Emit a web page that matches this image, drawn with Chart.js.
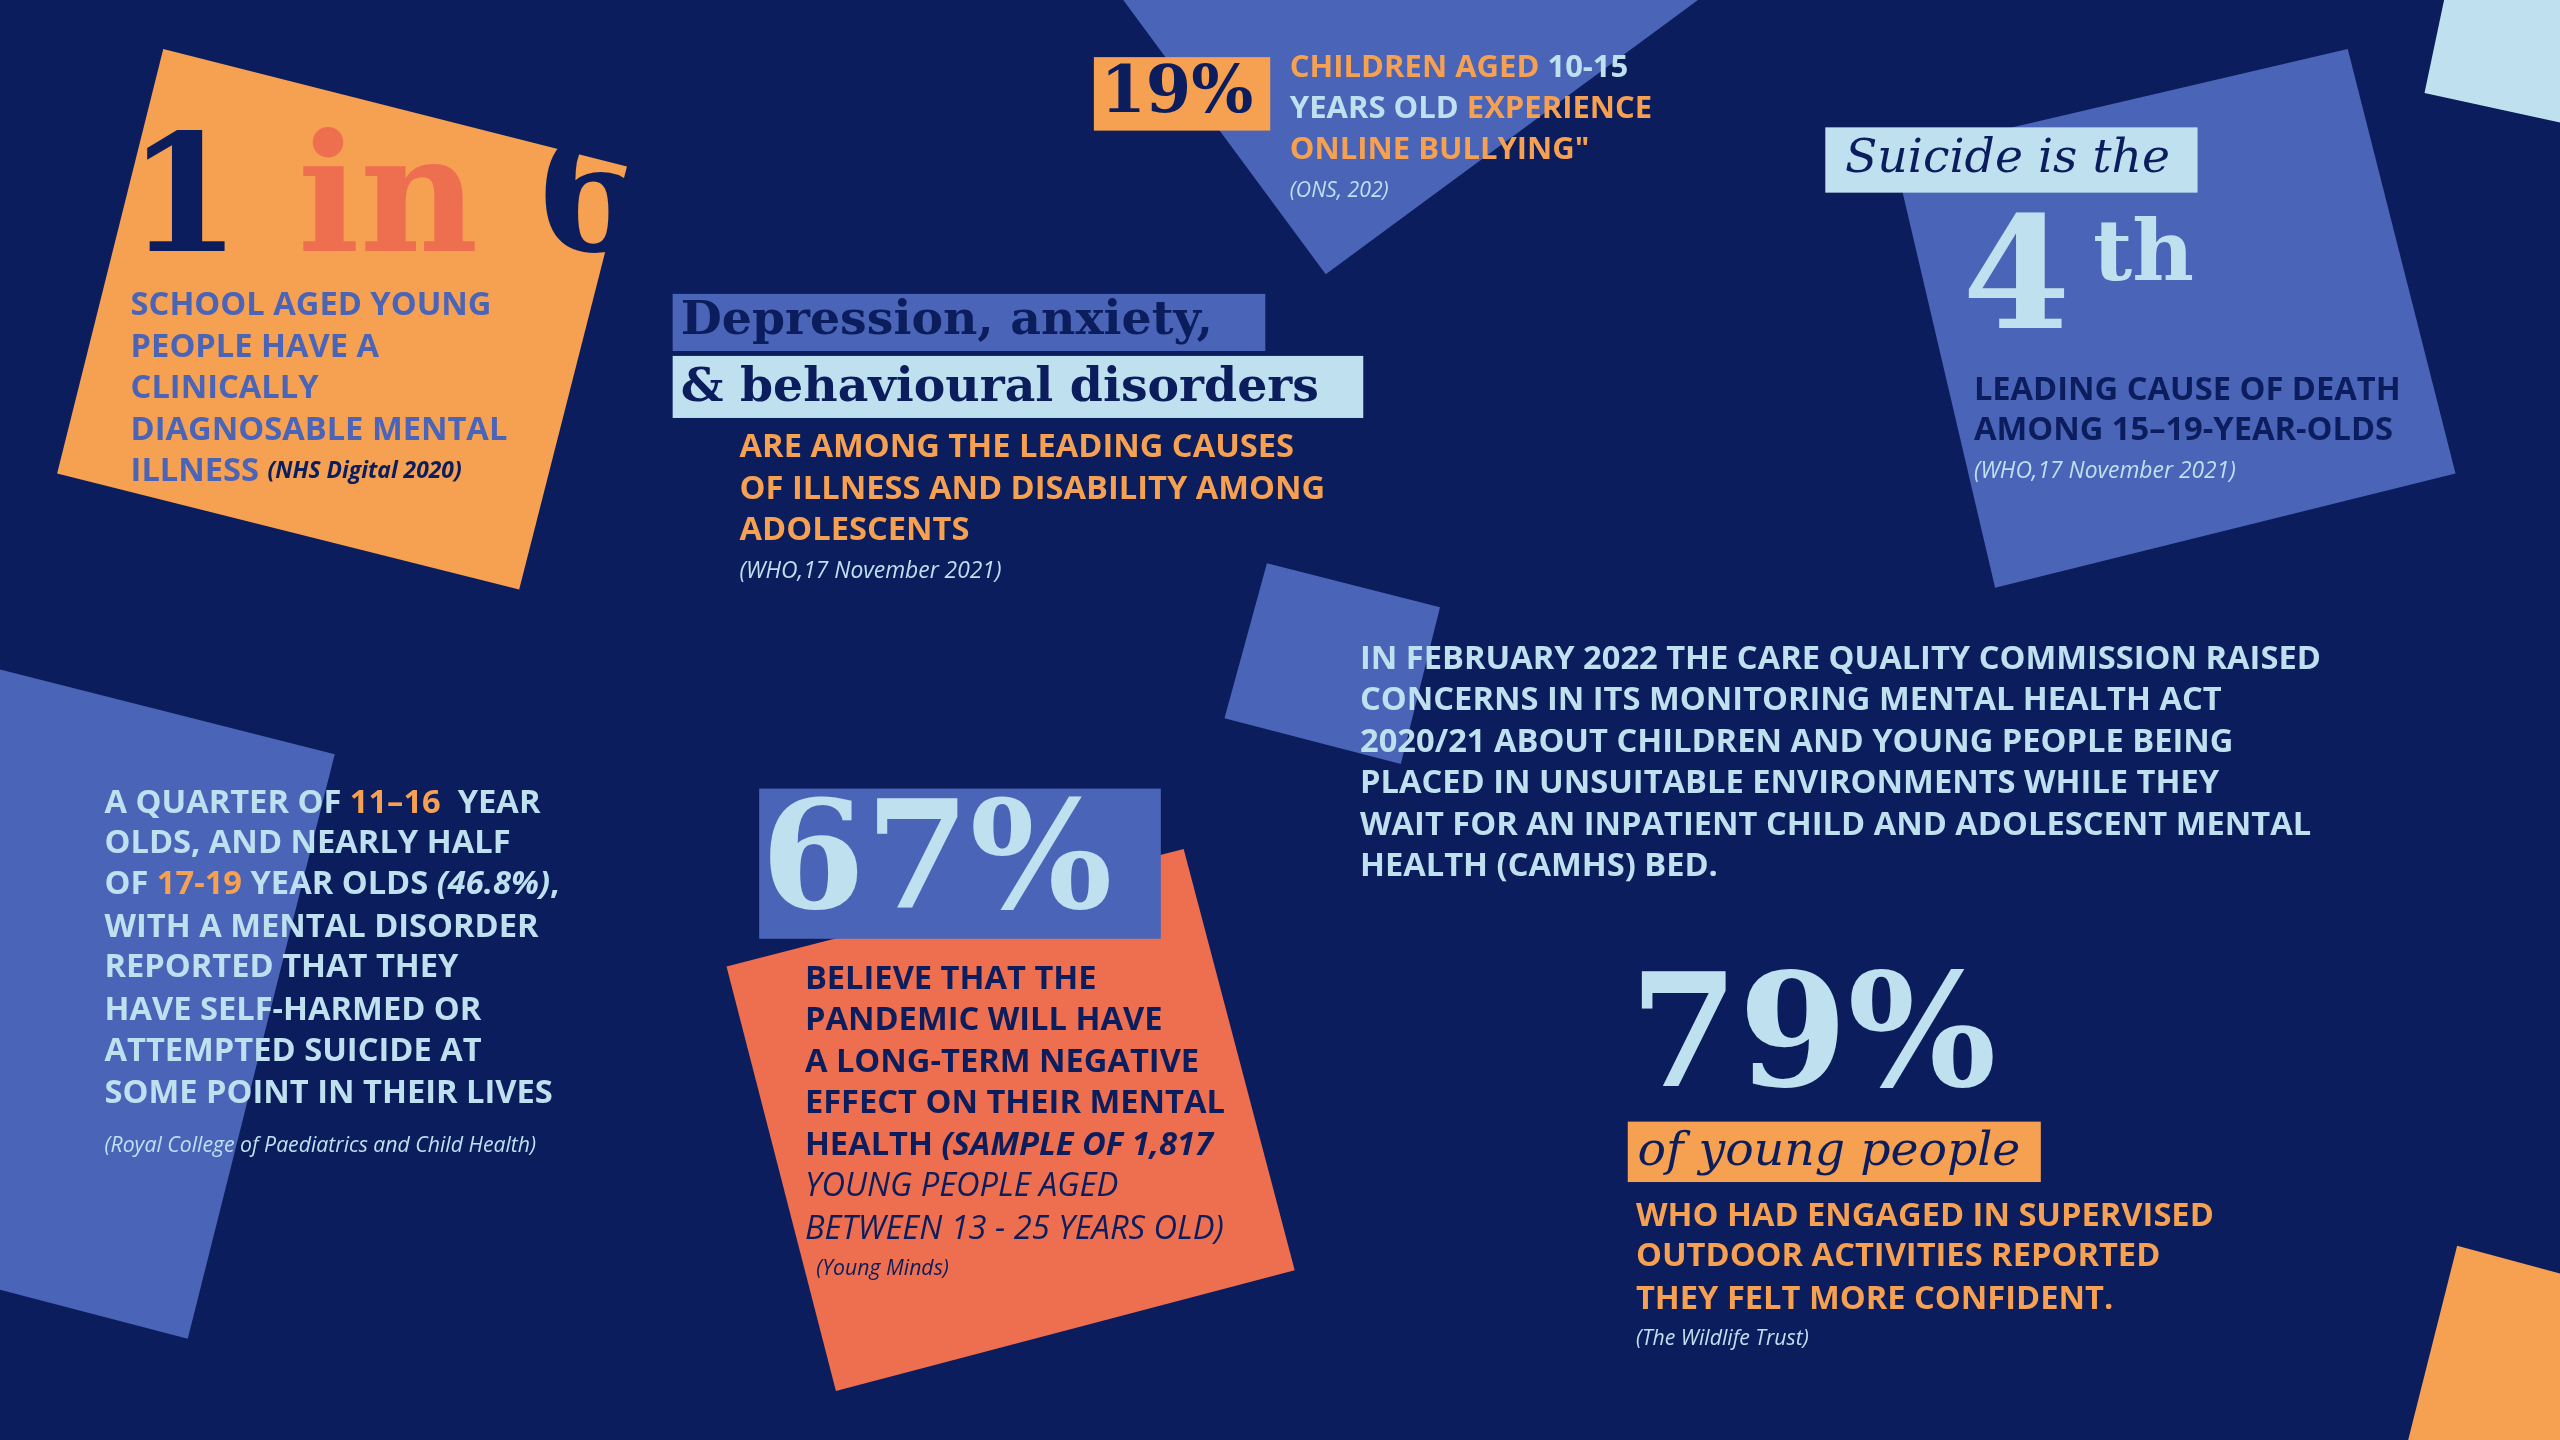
<!DOCTYPE html>
<html>
<head>
<meta charset="utf-8">
<script src="https://cdn.jsdelivr.net/npm/chart.js@4.4.1/dist/chart.umd.min.js"></script>
<style>
  html, body { margin: 0; padding: 0; background: #0b1d5c; overflow: hidden; }
  canvas { display: block; }
</style>
</head>
<body>
<canvas id="info" width="2560" height="1440" style="width:2560px;height:1440px"></canvas>
<script>
// Couleurs
const NAVY = '#0b1d5c';
const ORANGE = '#f6a052';
const BLUE = '#4a64b8';
const CORAL = '#ee6f50';
const LIGHT = '#bfe0ef';

// Formes (sommets dans le repère 1568 x 882 de l'affiche)
const shapeNames = ['orange', 'topBlue', 'topRight', 'rightBlue', 'midBlue', 'leftBlue', 'coral', 'bottomOrange'];
const shapeColors = [ORANGE, BLUE, LIGHT, BLUE, BLUE, BLUE, CORAL, ORANGE];
const shapeX = [
    [100, 384, 318, 35],
    [688, 1040, 812],
    [1497, 1568, 1568, 1485],
    [1160, 1438, 1504, 1222],
    [776, 882, 858, 750],
    [0, 205, 115, 0],
    [445, 725, 793, 512],
    [1505, 1568, 1568, 1475]
];
const shapeY = [
    [30, 102, 361, 290],
    [0, 0, 168],
    [0, 0, 75, 57],
    [95, 30, 290, 360],
    [345, 372, 468, 440],
    [410, 462, 820, 790],
    [592, 520, 778, 852],
    [763, 780, 882, 882]
];

// Cadres derrière les titres : [x1, y1, x2, y2, couleur]
const boxes = [
    [670, 35, 778, 80, ORANGE],
    [412, 180, 775, 215, BLUE],
    [412, 218, 835, 256, LIGHT],
    [1118, 78, 1346, 118, LIGHT],
    [465, 483, 711, 575, BLUE],
    [997, 687, 1250, 724, ORANGE]
];

const SANS = '"Open Sans", sans-serif';
const SERIF = '"DejaVu Serif", serif';

// Lignes de texte : x, y, taille, police, gras, [segments: texte, couleur, italique]
const texts = [
    [78, 128, 100, SERIF, true, [['1 ', NAVY], ['in ', CORAL], ['6', NAVY]]],
    [80, 187, 20, SANS, true, [['SCHOOL AGED YOUNG', BLUE]]],
    [80, 213, 20, SANS, true, [['PEOPLE HAVE A', BLUE]]],
    [80, 238, 20, SANS, true, [['CLINICALLY', BLUE]]],
    [80, 264, 20, SANS, true, [['DIAGNOSABLE MENTAL', BLUE]]],
    [80, 289, 20, SANS, true, [['ILLNESS ', BLUE], ['(NHS Digital 2020)', NAVY, true, 14]]],

    [674, 58, 40, SERIF, true, [['19%', NAVY]]],
    [790, 42, 19, SANS, true, [['CHILDREN AGED ', ORANGE], ['10-15', LIGHT]]],
    [790, 67, 19, SANS, true, [['YEARS OLD ', LIGHT], ['EXPERIENCE', ORANGE]]],
    [790, 92, 19, SANS, true, [['ONLINE BULLYING"', ORANGE]]],
    [790, 117, 13, SANS, false, [['(ONS, 202)', LIGHT, true]]],

    [417, 197, 29, SERIF, true, [['Depression, anxiety,', NAVY]]],
    [417, 238, 29, SERIF, true, [['& behavioural disorders', NAVY]]],
    [453, 274, 20, SANS, true, [['ARE AMONG THE LEADING CAUSES', ORANGE]]],
    [453, 300, 20, SANS, true, [['OF ILLNESS AND DISABILITY AMONG', ORANGE]]],
    [453, 325, 20, SANS, true, [['ADOLESCENTS', ORANGE]]],
    [453, 350, 14, SANS, false, [['(WHO,17 November 2021)', LIGHT, true]]],

    [1130, 98, 29, SERIF, false, [['Suicide is the', NAVY, true]]],
    [1202, 176, 95, SERIF, true, [['4', LIGHT]]],
    [1282, 158, 52, SERIF, true, [['th', LIGHT]]],
    [1209, 239, 20, SANS, true, [['LEADING CAUSE OF DEATH', NAVY]]],
    [1209, 264, 20, SANS, true, [['AMONG 15\u201319-YEAR-OLDS', NAVY]]],
    [1209, 289, 14, SANS, false, [['(WHO,17 November 2021)', LIGHT, true]]],

    [833, 404, 20, SANS, true, [['IN FEBRUARY 2022 THE CARE QUALITY COMMISSION RAISED', LIGHT]]],
    [833, 429, 20, SANS, true, [['CONCERNS IN ITS MONITORING MENTAL HEALTH ACT', LIGHT]]],
    [833, 455, 20, SANS, true, [['2020/21 ABOUT CHILDREN AND YOUNG PEOPLE BEING', LIGHT]]],
    [833, 480, 20, SANS, true, [['PLACED IN UNSUITABLE ENVIRONMENTS WHILE THEY', LIGHT]]],
    [833, 506, 20, SANS, true, [['WAIT FOR AN INPATIENT CHILD AND ADOLESCENT MENTAL', LIGHT]]],
    [833, 531, 20, SANS, true, [['HEALTH (CAMHS) BED.', LIGHT]]],

    [64, 492, 20, SANS, true, [['A QUARTER OF ', LIGHT], ['11\u201316', ORANGE], ['  YEAR', LIGHT]]],
    [64, 517, 20, SANS, true, [['OLDS, AND NEARLY HALF', LIGHT]]],
    [64, 542, 20, SANS, true, [['OF ', LIGHT], ['17-19', ORANGE], [' YEAR OLDS ', LIGHT], ['(46.8%)', LIGHT, true], [',', LIGHT]]],
    [64, 568, 20, SANS, true, [['WITH A MENTAL DISORDER', LIGHT]]],
    [64, 593, 20, SANS, true, [['REPORTED THAT THEY', LIGHT]]],
    [64, 619, 20, SANS, true, [['HAVE SELF-HARMED OR', LIGHT]]],
    [64, 644, 20, SANS, true, [['ATTEMPTED SUICIDE AT', LIGHT]]],
    [64, 670, 20, SANS, true, [['SOME POINT IN THEIR LIVES', LIGHT]]],
    [64, 702, 13, SANS, false, [['(Royal College of Paediatrics and Child Health)', LIGHT, true]]],

    [466, 532, 92, SERIF, true, [['67%', LIGHT]]],
    [493, 600, 20, SANS, true, [['BELIEVE THAT THE', NAVY]]],
    [493, 625, 20, SANS, true, [['PANDEMIC WILL HAVE', NAVY]]],
    [493, 651, 20, SANS, true, [['A LONG-TERM NEGATIVE', NAVY]]],
    [493, 676, 20, SANS, true, [['EFFECT ON THEIR MENTAL', NAVY]]],
    [493, 702, 20, SANS, true, [['HEALTH ', NAVY], ['(SAMPLE OF 1,817', NAVY, true]]],
    [493, 727, 20, SANS, false, [['YOUNG PEOPLE AGED', NAVY, true]]],
    [493, 753, 20, SANS, false, [['BETWEEN 13 - 25 YEARS OLD)', NAVY, true]]],
    [500, 777, 13, SANS, false, [['(Young Minds)', NAVY, true]]],

    [998, 640, 96, SERIF, true, [['79%', LIGHT]]],
    [1003, 706, 29, SERIF, false, [['of young people', NAVY, true]]],
    [1002, 745, 20, SANS, true, [['WHO HAD ENGAGED IN SUPERVISED', ORANGE]]],
    [1002, 770, 20, SANS, true, [['OUTDOOR ACTIVITIES REPORTED', ORANGE]]],
    [1002, 796, 20, SANS, true, [['THEY FELT MORE CONFIDENT.', ORANGE]]],
    [1002, 820, 13, SANS, false, [['(The Wildlife Trust)', LIGHT, true]]]
];

// Plugin : fond, polygones à partir des points calculés par Chart.js, cadres et textes
const posterPlugin = {
    id: 'poster',
    beforeDraw(chart) {
        const ctx = chart.ctx;
        ctx.save();
        ctx.fillStyle = NAVY;
        ctx.fillRect(0, 0, chart.width, chart.height);
        ctx.restore();
    },
    beforeDatasetsDraw(chart) {
        const ctx = chart.ctx;
        chart.data.datasets.forEach((ds, i) => {
            const pts = chart.getDatasetMeta(i).data;
            ctx.save();
            ctx.beginPath();
            pts.forEach((p, j) => j === 0 ? ctx.moveTo(p.x, p.y) : ctx.lineTo(p.x, p.y));
            ctx.closePath();
            ctx.fillStyle = ds.backgroundColor;
            ctx.fill();
            ctx.restore();
        });
    },
    afterDatasetsDraw(chart) {
        const ctx = chart.ctx;
        const sx = chart.scales.x, sy = chart.scales.y;
        const k = chart.width / 1568;
        boxes.forEach(b => {
            const x1 = sx.getPixelForValue(b[0]), y1 = sy.getPixelForValue(b[1]);
            const x2 = sx.getPixelForValue(b[2]), y2 = sy.getPixelForValue(b[3]);
            ctx.fillStyle = b[4];
            ctx.fillRect(x1, y1, x2 - x1, y2 - y1);
        });
        ctx.textBaseline = 'middle';
        texts.forEach(t => {
            let x = sx.getPixelForValue(t[0]);
            const y = sy.getPixelForValue(t[1]);
            t[5].forEach(seg => {
                const size = (seg[3] || t[2]) * k;
                ctx.font = (seg[2] ? 'italic ' : '') + (t[4] ? 'bold ' : '') + size + 'px ' + t[3];
                ctx.fillStyle = seg[1];
                ctx.fillText(seg[0], x, y);
                x += ctx.measureText(seg[0]).width;
            });
        });
    }
};

const datasets = shapeNames.map((name, i) => ({
    label: name,
    data: shapeX[i].map((x, j) => ({ x: x, y: shapeY[i][j] })),
    backgroundColor: shapeColors[i],
    pointRadius: 0,
    showLine: false
}));

new Chart(document.getElementById('info'), {
    type: 'scatter',
    data: { datasets: datasets },
    plugins: [posterPlugin],
    options: {
        responsive: false,
        animation: false,
        devicePixelRatio: 1,
        layout: { padding: 0 },
        plugins: { legend: { display: false }, tooltip: { enabled: false } },
        scales: {
            x: { type: 'linear', min: 0, max: 1568, display: false },
            y: { type: 'linear', min: 0, max: 882, reverse: true, display: false }
        }
    }
});
</script>
</body>
</html>
